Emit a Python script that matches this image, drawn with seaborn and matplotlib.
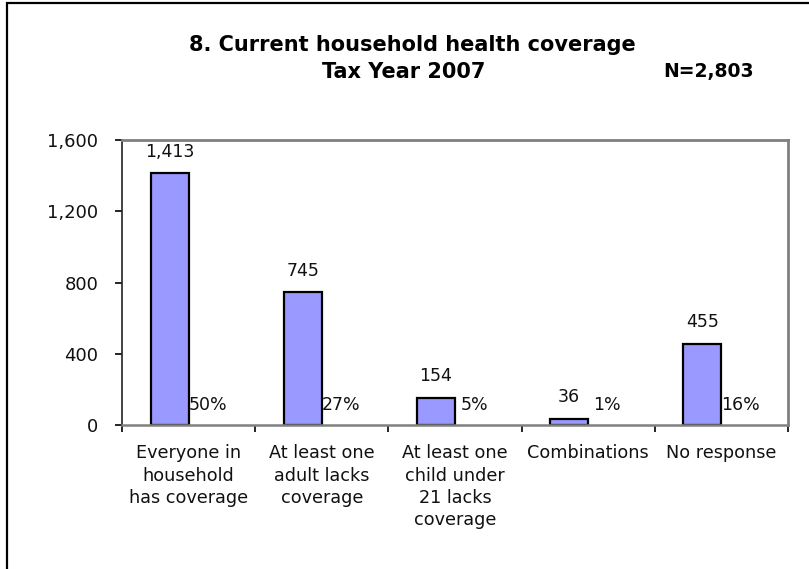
import matplotlib
matplotlib.use("Agg")
import matplotlib.pyplot as plt
import matplotlib.patches as mpatches
from matplotlib.ticker import FuncFormatter
import seaborn as sns
import pandas as pd

categories = [
    "Everyone in\nhousehold\nhas coverage",
    "At least one\nadult lacks\ncoverage",
    "At least one\nchild under\n21 lacks\ncoverage",
    "Combinations",
    "No response",
]
counts = [1413, 745, 154, 36, 455]
shares = [0.50, 0.27, 0.05, 0.01, 0.16]
series_names = ["Count", "Percent"]
title_line1 = "8. Current household health coverage"
title_line2 = "Tax Year 2007"
n_label = "N=2,803"
yticks = [0, 400, 800, 1200, 1600]

df = pd.DataFrame({
    "category": categories * 2,
    "series": [series_names[0]] * len(categories) + [series_names[1]] * len(categories),
    "value": counts + shares,
})

sns.set_theme(style="white")
plt.rcParams["font.family"] = ["DejaVu Sans"]
plt.rcParams["text.color"] = "black"

W, H = 809, 569
fig = plt.figure(figsize=(W / 100, H / 100), dpi=100)
ax = fig.add_axes([122 / W, 1 - 425 / H, (788 - 122) / W, (425 - 140) / H])

sns.barplot(data=df, x="category", y="value", hue="series", order=categories,
            hue_order=series_names, palette=["#9999FF", "#FFFFFF"],
            width=0.5714, gap=0, dodge=True, ax=ax, legend=False,
            edgecolor="black", linewidth=1.6, saturation=1)

# hide the percent series bars (values are tiny anyway)
for bar in ax.containers[1]:
    bar.set_alpha(0)

ax.bar_label(ax.containers[0], labels=[f"{v:,}" for v in counts], padding=9,
             fontsize=12.5, color="#111111")
ax.bar_label(ax.containers[1], labels=[f"{round(v * 100)}%" for v in shares],
             padding=8, fontsize=12.5, color="#111111")

ax.set_ylim(0, 1600)
ax.set_xlim(-0.5, len(categories) - 0.5)
ax.set_yticks(yticks)
ax.yaxis.set_major_formatter(FuncFormatter(lambda v, p: f"{int(v):,}"))
ax.set_xlabel("")
ax.set_ylabel("")

ax.tick_params(axis="y", which="major", direction="out", length=5, width=1.2,
               color="black", left=True, labelsize=13, pad=12, labelcolor="#111111")
ax.tick_params(axis="x", which="major", length=0, labelsize=12.7, pad=14,
               labelcolor="#111111")
ax.set_xticks([i - 0.5 for i in range(len(categories) + 1)], minor=True)
ax.tick_params(axis="x", which="minor", direction="out", length=5, width=1.2,
               color="black", bottom=True)
for lbl in ax.get_xticklabels():
    lbl.set_linespacing(1.3)

for side in ["top", "right"]:
    ax.spines[side].set_color("#808080")
    ax.spines[side].set_linewidth(2)
ax.spines["left"].set_color("#222222")
ax.spines["left"].set_linewidth(1.2)
ax.spines["bottom"].set_color("#808080")
ax.spines["bottom"].set_linewidth(1.8)

title_font = dict(fontweight="bold", family=["DejaVu Sans"], color="black")
fig.text(412 / W, 1 - 45 / H, title_line1, ha="center", va="center",
         fontsize=15, **title_font)
fig.text(404 / W, 1 - 72 / H, title_line2, ha="center", va="center",
         fontsize=15, **title_font)
fig.text(709 / W, 1 - 72 / H, n_label, ha="center", va="center",
         fontsize=13.5, **title_font)

border = mpatches.Rectangle((7 / W, -0.1), 1.2, 1.1 - 3.5 / H, transform=fig.transFigure,
                            fill=False, edgecolor="black", linewidth=1.6, clip_on=False)
fig.patches.append(border)

fig.savefig("out.png", dpi=100, facecolor="white")
